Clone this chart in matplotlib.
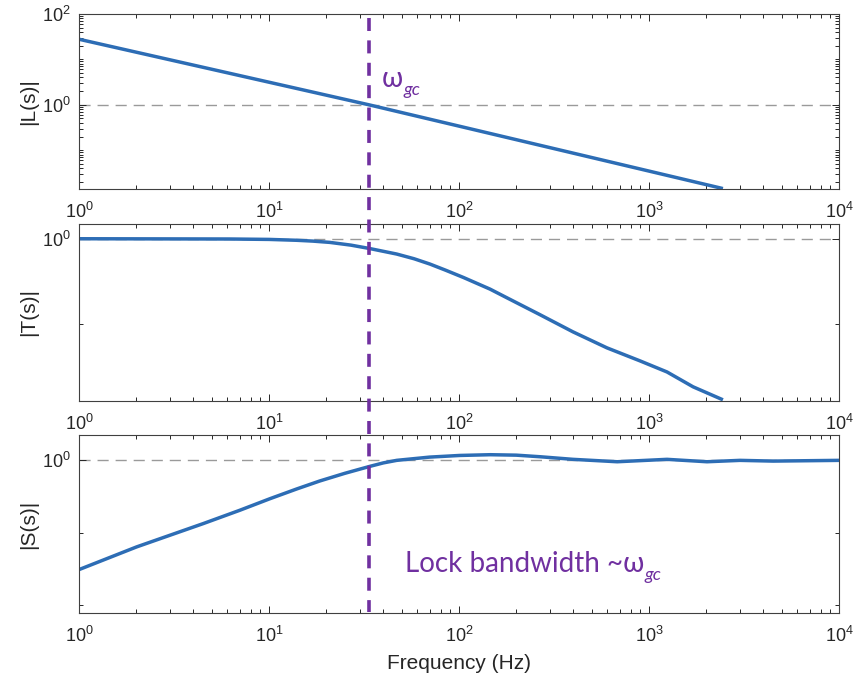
import matplotlib

matplotlib.use("Agg")
import matplotlib.pyplot as plt
from matplotlib.lines import Line2D
from matplotlib.ticker import FixedLocator, LogFormatterMathtext, LogLocator, NullFormatter
from matplotlib.transforms import blended_transform_factory

plt.rcParams["font.family"] = ["Liberation Sans", "DejaVu Sans"]
plt.rcParams["mathtext.fontset"] = "custom"
plt.rcParams["mathtext.rm"] = "Liberation Sans"
plt.rcParams["mathtext.it"] = "Liberation Sans:italic"
plt.rcParams["mathtext.bf"] = "Liberation Sans:bold"

# values (Hz, magnitude)
freq_L = [1, 33.6, 2450]
mag_L = [27.8, 1.0, 0.0143]

freq_T = [1, 6.2, 10, 14, 17, 20.9, 27, 33.7, 47, 58, 70.3, 85, 105.4, 145.6, 179, 267, 398,
          601, 897, 1244, 1706, 2450]
mag_T = [1.0, 0.993, 0.982, 0.959, 0.938, 0.906, 0.841, 0.769, 0.661, 0.582, 0.504, 0.427,
         0.351, 0.256, 0.202, 0.128, 0.0805, 0.0522, 0.0367, 0.0272, 0.0182, 0.0128]

freq_S = [1, 2.01, 4.51, 7, 10.1, 14, 18.5, 25, 33.7, 40, 47, 70, 101, 146, 200, 267, 398, 680,
          1244, 2018, 3013, 4500, 10000]
mag_S = [0.0310, 0.0638, 0.134, 0.204, 0.295, 0.403, 0.519, 0.661, 0.822, 0.923, 1.0, 1.109,
         1.169, 1.197, 1.18, 1.122, 1.033, 0.957, 1.033, 0.957, 1.0, 0.977, 1.0]

f_gc = 33.6
ylabels = ["|L(s)|", "|T(s)|", "|S(s)|"]
ylims = [(0.014, 100), (0.0124, 1.49), (0.0078, 2.24)]
y_major = [[1, 100], [1], [1]]
y_minor = [None, [0.1], [0.1, 0.01]]

BLUE = "#2D6DB5"
PURPLE = "#7030A0"
DARK = "#262626"

W, H = 854, 679
fig = plt.figure(figsize=(W / 100, H / 100), dpi=100)

# axes boxes in pixels: (top, bottom)
boxes = [(14, 189), (224, 401), (435, 613)]
left, right = 79, 839
axes = []
for (top, bot) in boxes:
    ax = fig.add_axes([left / W, 1 - bot / H, (right - left) / W, (bot - top) / H])
    axes.append(ax)

series = [(freq_L, mag_L), (freq_T, mag_T), (freq_S, mag_S)]
for i, ax in enumerate(axes):
    ax.set_xscale("log")
    ax.set_yscale("log")
    ax.axhline(1, color="#9a9a9a", lw=1.0, dashes=(8, 5), zorder=1)
    f, m = series[i]
    ax.plot(f, m, color=BLUE, lw=2.5, solid_capstyle="butt", solid_joinstyle="round", zorder=2)
    ax.set_xlim(1, 1e4)
    ax.set_ylim(*ylims[i])

    ax.xaxis.set_major_locator(LogLocator(base=10, numticks=10))
    ax.xaxis.set_minor_locator(LogLocator(base=10, subs=range(2, 10), numticks=20))
    ax.xaxis.set_major_formatter(LogFormatterMathtext())
    ax.xaxis.set_minor_formatter(NullFormatter())
    ax.yaxis.set_major_locator(FixedLocator(y_major[i]))
    if y_minor[i] is None:
        ax.yaxis.set_minor_locator(LogLocator(base=10, subs=range(1, 10), numticks=20))
    else:
        ax.yaxis.set_minor_locator(FixedLocator(y_minor[i]))
    ax.yaxis.set_major_formatter(LogFormatterMathtext())
    ax.yaxis.set_minor_formatter(NullFormatter())

    ax.tick_params(which="both", direction="in", top=True, right=True,
                   colors=DARK, width=0.7, labelsize=13)
    ax.tick_params(which="major", length=5)
    ax.tick_params(which="minor", length=3)
    ax.tick_params(axis="x", pad=9)
    ax.tick_params(axis="y", pad=6)
    for sp in ax.spines.values():
        sp.set_color("#404040")
        sp.set_linewidth(0.8)

    ax.set_ylabel(ylabels[i], fontsize=15, color=DARK)
    ax.yaxis.set_label_coords((38 - left) / (right - left), 0.5)

axes[2].set_xlabel("Frequency (Hz)", fontsize=15, color=DARK, labelpad=6)

# crossover marker spanning all three panels
trans = blended_transform_factory(axes[2].transData, fig.transFigure)
fig.add_artist(Line2D([f_gc, f_gc], [1 - 18 / H, 1 - 612 / H], transform=trans,
                      color=PURPLE, lw=2.6, dashes=(3.6, 2.6)))

txt_font = ["Lato", "DejaVu Sans"]
w1 = fig.text(382 / W, 1 - 87 / H, "ω", fontsize=20, color=PURPLE,
              family=txt_font, va="baseline", ha="left")
axes[0].annotate("gc", xy=(1, H - 95), xycoords=(w1, "figure pixels"), fontsize=13,
                 color=PURPLE, family=txt_font, style="italic", va="baseline", ha="left",
                 annotation_clip=False)

w2 = fig.text(405 / W, 1 - 572 / H, "Lock bandwidth ~ω", fontsize=20, color=PURPLE,
              family=txt_font, va="baseline", ha="left")
axes[2].annotate("gc", xy=(1, H - 580), xycoords=(w2, "figure pixels"), fontsize=13,
                 color=PURPLE, family=txt_font, style="italic", va="baseline", ha="left",
                 annotation_clip=False)

fig.savefig("out.png", dpi=100)
